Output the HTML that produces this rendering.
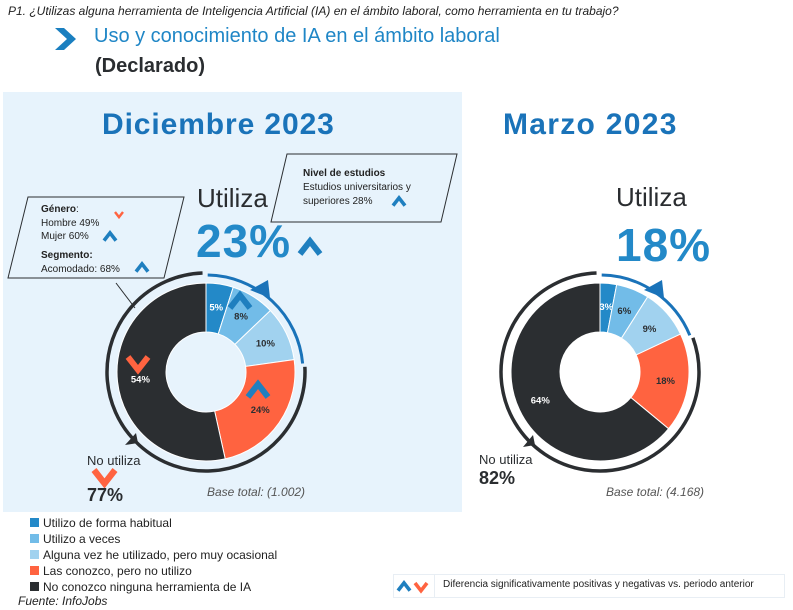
<!DOCTYPE html>
<html><head><meta charset="utf-8"><style>
body{margin:0;width:793px;height:610px;background:#fff;overflow:hidden;font-family:"Liberation Sans",sans-serif;position:relative}
.t{position:absolute;white-space:nowrap}
</style></head><body>
<div style="position:absolute;left:3px;top:92px;width:459px;height:420px;background:#e7f3fc"></div>
<svg id="s" width="793" height="610" style="position:absolute;left:0;top:0"></svg>
<div class="t" style="left:8px;top:4px;font-size:12px;font-style:italic;color:#222">P1. ¿Utilizas alguna herramienta de Inteligencia Artificial (IA) en el ámbito laboral, como herramienta en tu trabajo?</div>
<div class="t" style="left:94px;top:25px;font-size:20px;color:#1f86c6">Uso y conocimiento de IA en el ámbito laboral</div>
<div class="t" style="left:95px;top:55px;font-size:20px;font-weight:bold;color:#2a2d30">(Declarado)</div>
<div class="t" style="left:102px;top:108px;font-size:30px;font-weight:bold;color:#1a73b9;letter-spacing:0.9px">Diciembre 2023</div>
<div class="t" style="left:503px;top:108px;font-size:30px;font-weight:bold;color:#1a73b9;letter-spacing:1.3px">Marzo 2023</div>
<div class="t" style="left:197px;top:183px;font-size:26px;color:#2a2d30">Utiliza</div>
<div class="t" style="left:196px;top:214px;font-size:46px;font-weight:bold;color:#2389c8;letter-spacing:1px">23%</div>
<div class="t" style="left:616px;top:182px;font-size:26px;color:#2a2d30">Utiliza</div>
<div class="t" style="left:616px;top:218px;font-size:46px;font-weight:bold;color:#2389c8;letter-spacing:1px">18%</div>
<div class="t" style="left:41px;top:203px;font-size:10px;line-height:13.5px;color:#222"><b>Género</b>:<br>Hombre 49%<br>Mujer 60%</div>
<div class="t" style="left:41px;top:249px;font-size:10px;line-height:14px;color:#222"><b>Segmento:</b><br>Acomodado: 68%</div>
<div class="t" style="left:303px;top:167px;font-size:10px;line-height:14px;color:#222"><b>Nivel de estudios</b><br>Estudios universitarios y<br>superiores 28%</div>
<div class="t" style="left:87px;top:453px;font-size:13px;color:#2a2d30">No utiliza</div>
<div class="t" style="left:87px;top:485px;font-size:18px;font-weight:bold;color:#2a2d30">77%</div>
<div class="t" style="left:479px;top:452px;font-size:13px;color:#2a2d30">No utiliza</div>
<div class="t" style="left:479px;top:468px;font-size:18px;font-weight:bold;color:#2a2d30">82%</div>
<div class="t" style="left:207px;top:485px;font-size:12px;font-style:italic;color:#555">Base total: (1.002)</div>
<div class="t" style="left:606px;top:485px;font-size:12px;font-style:italic;color:#555">Base total: (4.168)</div>
<div class="t" style="left:43px;top:515px;font-size:12px;line-height:16px;color:#222">Utilizo de forma habitual<br>Utilizo a veces<br>Alguna vez he utilizado, pero muy ocasional<br>Las conozco, pero no utilizo<br>No conozco ninguna herramienta de IA</div>
<div class="t" style="left:18px;top:594px;font-size:12px;font-style:italic;color:#222">Fuente: InfoJobs</div>
<div style="position:absolute;left:393px;top:574px;width:390px;height:22px;border:1px solid #e8eef4"></div>
<div style="position:absolute;left:434px;top:575px;width:1px;height:22px;background:#e8eef4"></div>
<div class="t" style="left:443px;top:579px;font-size:10px;color:#222">Diferencia significativamente positivas y negativas vs. periodo anterior</div>
<script>
const s=document.getElementById('s');let h='';
const cols=['#2389c8','#72bce8','#a1d2ef','#ff6340','#2b2e31'];
function pt(cx,cy,r,a){a=a*Math.PI/180;return [cx+r*Math.sin(a),cy-r*Math.cos(a)];}
function slice(cx,cy,r0,r1,a0,a1,c){const l=a1-a0>180?1:0;const p1=pt(cx,cy,r1,a0),p2=pt(cx,cy,r1,a1),p3=pt(cx,cy,r0,a1),p4=pt(cx,cy,r0,a0);
return `<path d="M${p1} A${r1},${r1} 0 ${l} 1 ${p2} L${p3} A${r0},${r0} 0 ${l} 0 ${p4}Z" fill="${c}" stroke="#fff" stroke-width="1"/>`;}
function arc(cx,cy,r,a0,a1,c,w){const l=a1-a0>180?1:0;return `<path d="M${pt(cx,cy,r,a0)} A${r},${r} 0 ${l} 1 ${pt(cx,cy,r,a1)}" fill="none" stroke="${c}" stroke-width="${w}"/>`;}
function up(x,y,w,c){const hh=w*0.8;return `<path d="M${x},${y+hh} L${x+w/2},${y+hh*0.2} L${x+w},${y+hh}" fill="none" stroke="${c||'#1f7fbf'}" stroke-width="${w*0.3}"/>`;}
function dn(x,y,w){const hh=w*0.8;return `<path d="M${x},${y} L${x+w/2},${y+hh*0.8} L${x+w},${y}" fill="none" stroke="#ff6340" stroke-width="${w*0.3}"/>`;}
function donut(cx,cy,vals,labs,lc){const tot=vals.reduce((a,b)=>a+b);let a=0;
vals.forEach((v,i)=>{const a1=a+v/tot*360;h+=slice(cx,cy,40,89,a,a1,cols[i]);const m=(a+a1)/2;const p=pt(cx,cy,66,m);
h+=`<text x="${p[0]}" y="${p[1]+3.5}" font-size="9.5" font-weight="bold" text-anchor="middle" fill="${lc[i]}" font-family="Liberation Sans">${labs[i]}</text>`;a=a1;});
const u=(vals[0]+vals[1]+vals[2])/tot*360;h+=arc(cx,cy,97,1,u+3,'#1a73b9',3);h+=arc(cx,cy,99,u+5,358,'#2b2e31',3.5);
return u;}
h+='<path d="M55,28 L64,28 L76,39 L64,50 L55,50 L67,39Z" fill="#1a7fc0"/>';
donut(206,372,[5,8,10,24,54],['5%','8%','10%','24%','54%'],['#fff','#2b2e31','#2b2e31','#2b2e31','#fff']);
donut(600,372,[3,6,9,18,64],['3%','6%','9%','18%','64%'],['#fff','#2b2e31','#2b2e31','#2b2e31','#fff']);
h+='<path d="M250,290 L268,280 L270,298Z" fill="#1a73b9"/><path d="M644,290 L662,280 L664,298Z" fill="#1a73b9"/>';
h+='<path d="M125,445 L136,433 L138,443Z" fill="#2b2e31"/><path d="M523,447 L533,435 L535,445Z" fill="#2b2e31"/>';
h+='<polygon points="28,197 184,197 164,278 8,278" fill="none" stroke="#2b2e31" stroke-width="1"/>';
h+='<polygon points="287,154 457,154 441,222 271,222" fill="#e7f3fc" stroke="#2b2e31" stroke-width="1"/>';
h+='<line x1="116" y1="283" x2="135" y2="308" stroke="#2b2e31"/>';
h+=up(300,238,20)+up(230,292,20)+up(248,381,20)+up(104,231,12)+up(136,262,12)+up(393,196,12);
h+=dn(115,212,8)+dn(128,357,20)+dn(94,470,21);
[0,1,2,3,4].forEach(i=>{h+=`<rect x="30" y="${518+i*16}" width="9" height="9" fill="${cols[i]}"/>`;});
h+=up(398,581,12)+dn(415,583,12);
s.innerHTML=h;
</script>
</body></html>
